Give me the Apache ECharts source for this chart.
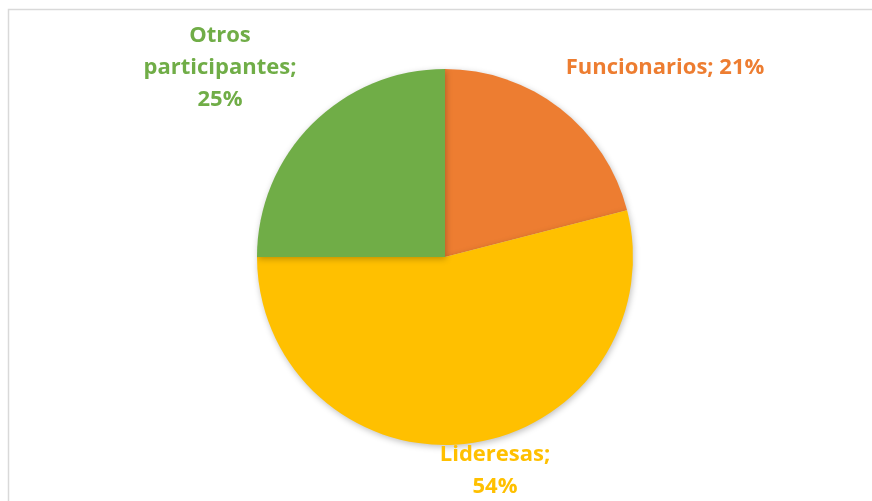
<!DOCTYPE html>
<html><head><meta charset="utf-8">
<script src="https://cdn.jsdelivr.net/npm/echarts@6/dist/echarts.min.js"></script>
<style>html,body{margin:0;padding:0;background:#fff}#c{width:872px;height:501px}</style>
</head><body><div id="c"></div>
<script>
const categories = ['Funcionarios', 'Lideresas', 'Otros participantes'];
const values = [21, 54, 25];
const colors = ['#ED7D31', '#FFC000', '#70AD47'];
const labelText = ['Funcionarios; 21%', 'Lideresas;\n54%', 'Otros\nparticipantes;\n25%'];
const labelPos = [[665, 68], [495, 471], [220, 68]];

const chart = echarts.init(document.getElementById('c'), null, {renderer: 'canvas'});
chart.setOption({
  animation: false,
  graphic: [{
    type: 'rect', shape: {x: 8.5, y: 9.5, width: 900, height: 600},
    style: {fill: 'none', stroke: '#d9d9d9', lineWidth: 1.5}, silent: true, z: -1
  }],
  series: [{
    type: 'pie',
    center: [445, 257],
    radius: 188,
    startAngle: 90,
    clockwise: true,
    data: categories.map((n, i) => ({
      name: n, value: values[i],
      itemStyle: {color: colors[i]},
      label: {color: colors[i]}
    })),
    itemStyle: {shadowBlur: 6, shadowColor: 'rgba(0,0,0,0.25)', shadowOffsetX: 1, shadowOffsetY: 2},
    label: {
      show: true,
      position: 'outside',
      formatter: p => labelText[p.dataIndex],
      fontFamily: 'Open Sans',
      fontWeight: 'bold',
      fontSize: 22,
      lineHeight: 32,
      align: 'center'
    },
    labelLine: {show: false},
    labelLayout: p => ({x: labelPos[p.dataIndex][0], y: labelPos[p.dataIndex][1], align: 'center', verticalAlign: 'middle'})
  }]
});
</script></body></html>
